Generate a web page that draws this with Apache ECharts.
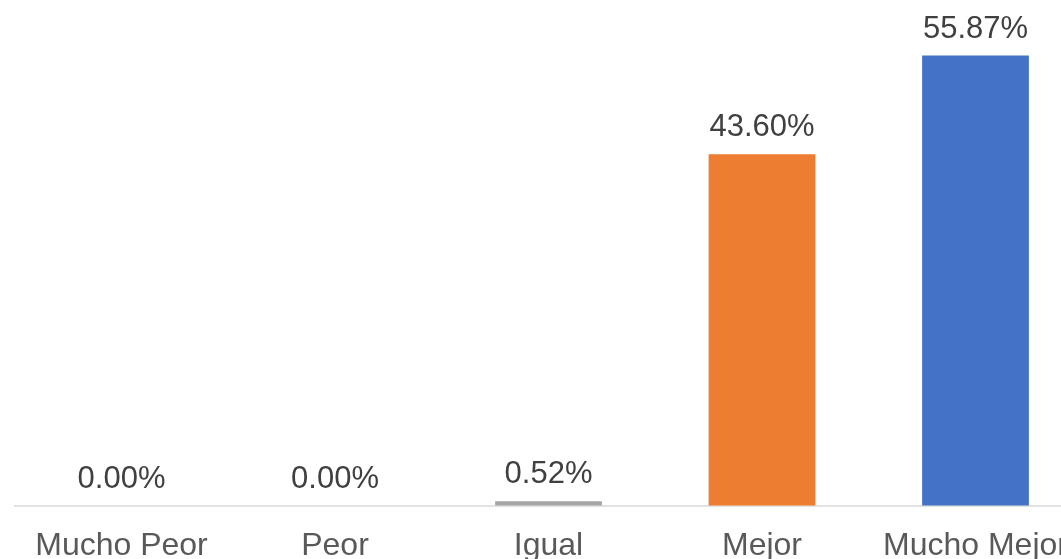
<!DOCTYPE html>
<html>
<head>
<meta charset="utf-8">
<script src="https://cdn.jsdelivr.net/npm/echarts@6/dist/echarts.min.js"></script>
<style>
  html, body { margin: 0; padding: 0; background: #ffffff; overflow: hidden; }
  #chart { width: 1061px; height: 559px; }
</style>
</head>
<body>
<div id="chart"></div>
<script>
// Response categories and their share of answers (%)
const categories = ['Mucho Peor', 'Peor', 'Igual', 'Mejor', 'Mucho Mejor'];
const shares = [0.00, 0.00, 0.52, 43.60, 55.87];
const barColors = ['#5B9BD5', '#FFC000', '#A5A5A5', '#ED7D31', '#4472C4'];

const font = '"Liberation Sans", Arial, Helvetica, sans-serif';

const chart = echarts.init(document.getElementById('chart'), null, { renderer: 'canvas' });

chart.setOption({
  animation: false,
  backgroundColor: '#ffffff',
  // The last category runs past the right edge, so the grid is allowed to overflow.
  grid: {
    left: 14.75, top: 22.3, width: 1067.5, height: 483.2,
    containLabel: false,
    outerBoundsMode: 'none'
  },
  xAxis: {
    type: 'category',
    data: categories,
    axisLine: { show: true, lineStyle: { color: '#D9D9D9', width: 1.5 } },
    axisTick: { show: false },
    axisLabel: {
      color: '#595959',
      fontFamily: font,
      fontSize: 32,
      margin: 25,
      interval: 0
    }
  },
  yAxis: {
    type: 'value',
    min: 0,
    max: 60,
    show: false,
    splitLine: { show: false }
  },
  series: [{
    type: 'bar',
    barCategoryGap: '50%',
    data: shares.map((v, i) => ({ value: v, itemStyle: { color: barColors[i] } })),
    label: {
      show: true,
      position: 'top',
      distance: 11,
      color: '#404040',
      fontFamily: font,
      fontSize: 31,
      formatter: p => p.value.toFixed(2) + '%'
    }
  }]
});
</script>
</body>
</html>
